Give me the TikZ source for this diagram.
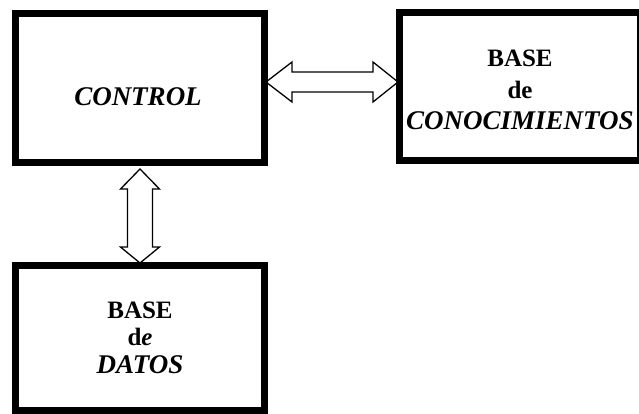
\documentclass[tikz,border=0pt]{standalone}
\usepackage{fontspec}
\setmainfont{Liberation Serif}
\usetikzlibrary{calc}

\begin{document}
\begin{tikzpicture}[x=1pt,y=-1pt,
   box/.style={draw, line width=7pt, outer sep=0pt, inner sep=0pt},
   txt/.style={align=center, font=\bfseries\fontsize{25}{31.5}\selectfont},
   dbl/.style={draw, line width=1.3pt, line join=miter}]
   \useasboundingbox (0,0) rectangle (639,414);
   \clip (0,0) rectangle (639,414);

   \node[box, minimum width=249pt, minimum height=149pt] (ctl) at (140,88) {};
   \node[box, minimum width=241pt, minimum height=148pt] (kb) at (520,86.5) {};
   \node[box, minimum width=249pt, minimum height=144.5pt] (db) at (140,337.75) {};

   \node[txt] (ctltxt) at (138,97) {\itshape\fontsize{27}{31.5}\selectfont CONTROL};
   \node[txt] (kbtxt) at (520,90) {BASE\\de\\{\itshape\fontsize{27}{31.5}\selectfont CONOCIMIENTOS}};
   \node[txt, font=\bfseries\fontsize{25}{27.5}\selectfont] (dbtxt) at (140,337.5)
      {BASE\\d\textit{e}\\{\itshape\fontsize{27}{27.5}\selectfont DATOS}};

   \coordinate (h1) at ($(ctl.east)+(1.5,-6)$);
   \coordinate (v1) at ($(ctl.south)+(0,6.5)$);

   \draw[dbl] (h1) -- ++(26,-20) -- ++(0,10) -- ++(81,0) -- ++(0,-10) -- ++(25,20)
      -- ++(-25,20) -- ++(0,-10) -- ++(-81,0) -- ++(0,10) -- cycle;
   \draw[dbl] (v1) -- ++(19.5,20) -- ++(-7,0) -- ++(0,58) -- ++(7,0) -- ++(-19.5,16)
      -- ++(-19.5,-16) -- ++(7,0) -- ++(0,-58) -- ++(-7,0) -- cycle;
\end{tikzpicture}
\end{document}
